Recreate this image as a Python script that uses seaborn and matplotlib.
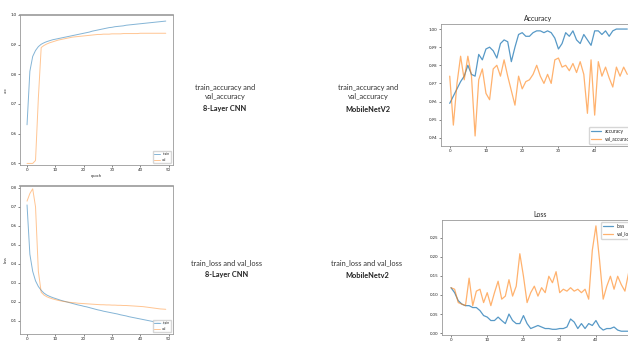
import numpy as np
import pandas as pd
import matplotlib
matplotlib.use("Agg")
import matplotlib.pyplot as plt
import seaborn as sns

sns.set_style("ticks")
plt.rcParams['font.family'] = ['Lato', 'DejaVu Sans']

# 8-layer CNN (left column)
cnn_epochs = list(range(50))
cnn_train_acc = [0.63, 0.81, 0.86, 0.88, 0.893, 0.901, 0.906, 0.910, 0.913, 0.916,
                 0.918, 0.920, 0.922, 0.924, 0.926, 0.928, 0.930, 0.932, 0.934, 0.936,
                 0.938, 0.940, 0.942, 0.945, 0.947, 0.949, 0.951, 0.953, 0.955, 0.957,
                 0.958, 0.960, 0.961, 0.962, 0.963, 0.965, 0.966, 0.967, 0.968, 0.969,
                 0.970, 0.971, 0.972, 0.973, 0.974, 0.975, 0.976, 0.977, 0.978, 0.979]
cnn_val_acc = [0.50, 0.50, 0.50, 0.51, 0.72, 0.89, 0.897, 0.902, 0.906, 0.909,
               0.912, 0.915, 0.917, 0.919, 0.921, 0.923, 0.925, 0.926, 0.927, 0.928,
               0.929, 0.930, 0.931, 0.932, 0.933, 0.934, 0.934, 0.935, 0.935, 0.935,
               0.936, 0.936, 0.936, 0.936, 0.937, 0.937, 0.937, 0.937, 0.937, 0.937,
               0.938, 0.938, 0.938, 0.938, 0.938, 0.938, 0.938, 0.938, 0.938, 0.938]
cnn_train_loss = [0.71, 0.45, 0.36, 0.31, 0.28, 0.26, 0.245, 0.235, 0.228, 0.222,
                  0.217, 0.212, 0.207, 0.203, 0.199, 0.195, 0.191, 0.187, 0.183, 0.180,
                  0.176, 0.173, 0.169, 0.165, 0.161, 0.157, 0.154, 0.150, 0.147, 0.144,
                  0.141, 0.138, 0.135, 0.131, 0.128, 0.125, 0.121, 0.118, 0.115, 0.112,
                  0.109, 0.106, 0.103, 0.100, 0.097, 0.094, 0.091, 0.088, 0.084, 0.080]
cnn_val_loss = [0.73, 0.77, 0.795, 0.70, 0.36, 0.25, 0.235, 0.226, 0.220, 0.215,
                0.211, 0.207, 0.204, 0.201, 0.199, 0.197, 0.195, 0.194, 0.192, 0.191,
                0.190, 0.189, 0.188, 0.187, 0.186, 0.185, 0.184, 0.184, 0.183, 0.183,
                0.182, 0.182, 0.181, 0.181, 0.180, 0.180, 0.179, 0.178, 0.177, 0.176,
                0.175, 0.174, 0.172, 0.170, 0.168, 0.166, 0.164, 0.162, 0.161, 0.160]

# MobileNetV2 (right column)
mob_epochs = list(range(50))
mob_acc = [0.959, 0.963, 0.967, 0.971, 0.974, 0.980, 0.975, 0.974, 0.986, 0.983,
           0.989, 0.990, 0.988, 0.984, 0.992, 0.994, 0.993, 0.982, 0.990, 0.997,
           0.998, 0.996, 0.996, 0.998, 0.999, 0.999, 0.998, 0.999, 0.998, 0.995,
           0.989, 0.992, 0.998, 0.996, 0.999, 0.994, 0.992, 0.997, 0.994, 0.991,
           0.999, 0.999, 0.997, 0.999, 0.996, 0.999, 1.000, 1.000, 1.000, 1.000]
mob_val_acc = [0.974, 0.947, 0.970, 0.985, 0.972, 0.985, 0.974, 0.941, 0.972, 0.978,
               0.9645, 0.961, 0.978, 0.980, 0.974, 0.983, 0.974, 0.966, 0.958, 0.974,
               0.967, 0.971, 0.972, 0.975, 0.980, 0.974, 0.970, 0.975, 0.970, 0.983,
               0.984, 0.979, 0.980, 0.977, 0.981, 0.976, 0.982, 0.975, 0.9535, 0.983,
               0.9525, 0.982, 0.974, 0.979, 0.973, 0.968, 0.979, 0.974, 0.979, 0.975]
mob_loss = [0.119, 0.106, 0.085, 0.076, 0.072, 0.072, 0.067, 0.067, 0.059, 0.046,
            0.042, 0.033, 0.033, 0.042, 0.033, 0.025, 0.050, 0.033, 0.025, 0.025,
            0.046, 0.025, 0.012, 0.016, 0.020, 0.016, 0.012, 0.012, 0.010, 0.010,
            0.012, 0.012, 0.016, 0.037, 0.029, 0.012, 0.025, 0.012, 0.025, 0.020,
            0.033, 0.016, 0.008, 0.012, 0.012, 0.016, 0.008, 0.005, 0.005, 0.005]
mob_val_loss = [0.119, 0.115, 0.080, 0.076, 0.072, 0.144, 0.072, 0.110, 0.115, 0.080,
                0.106, 0.072, 0.106, 0.136, 0.089, 0.097, 0.140, 0.097, 0.123, 0.208,
                0.149, 0.080, 0.106, 0.123, 0.097, 0.119, 0.106, 0.149, 0.132, 0.161,
                0.106, 0.115, 0.110, 0.119, 0.110, 0.115, 0.106, 0.115, 0.089, 0.217,
                0.281, 0.191, 0.089, 0.123, 0.149, 0.115, 0.149, 0.127, 0.110, 0.157]

blue = '#1f77b4'
orange = '#ff7f0e'

fig = plt.figure(figsize=(6.28, 3.45), dpi=100)

tick_fs = 3.2


def style_axes(ax):
    ax.tick_params(labelsize=tick_fs, length=1.5, width=0.4, pad=1)
    for s in ax.spines.values():
        s.set_linewidth(0.6)
        s.set_color('#999999')


# left top: CNN accuracy
ax1 = fig.add_axes([0.032, 0.522, 0.243, 0.435])
sns.lineplot(x=cnn_epochs, y=cnn_train_acc, ax=ax1, color=blue, alpha=0.55, lw=0.7, label='train')
sns.lineplot(x=cnn_epochs, y=cnn_val_acc, ax=ax1, color=orange, alpha=0.45, lw=0.7, label='val')
ax1.set_ylim(0.495, 1.0)
ax1.set_xticks(range(0, 51, 10))
ax1.set_xlabel('epoch', fontsize=3, labelpad=1)
ax1.set_ylabel('acc', fontsize=3, labelpad=2)
style_axes(ax1)
ax1.spines['top'].set_linewidth(1.2)
ax1.legend(loc='lower right', fontsize=2.5, frameon=True, handlelength=1.5)

# left bottom: CNN loss (its x label falls below the picture in the reference)
ax2 = fig.add_axes([0.032, 0.032, 0.243, 0.429])
sns.lineplot(x=cnn_epochs, y=cnn_train_loss, ax=ax2, color=blue, alpha=0.55, lw=0.7, label='train')
sns.lineplot(x=cnn_epochs, y=cnn_val_loss, ax=ax2, color=orange, alpha=0.45, lw=0.7, label='val')
ax2.set_ylim(0.03, 0.81)
ax2.set_xticks(range(0, 51, 10))
ax2.set_ylabel('loss', fontsize=3, labelpad=2)
style_axes(ax2)
ax2.spines['top'].set_linewidth(1.2)
ax2.legend(loc='lower right', fontsize=2.5, frameon=True, handlelength=1.5)

# right top: MobileNetV2 accuracy
ax3 = fig.add_axes([0.702, 0.577, 0.311, 0.353])
sns.lineplot(x=mob_epochs, y=mob_acc, ax=ax3, color=blue, alpha=0.75, lw=0.9, label='accuracy')
sns.lineplot(x=mob_epochs, y=mob_val_acc, ax=ax3, color=orange, alpha=0.6, lw=0.9, label='val_accuracy')
ax3.set_ylim(0.9355, 1.0027)
ax3.set_yticks([0.94, 0.95, 0.96, 0.97, 0.98, 0.99, 1.00])
ax3.set_xticks(range(0, 51, 10))
ax3.set_title('Accuracy', fontsize=5, pad=2)
style_axes(ax3)
ax3.legend(loc='lower right', fontsize=3.5, frameon=True, handlelength=2)

# right bottom: MobileNetV2 loss
ax4 = fig.add_axes([0.704, 0.03, 0.311, 0.333])
sns.lineplot(x=mob_epochs, y=mob_loss, ax=ax4, color=blue, alpha=0.75, lw=0.9, label='loss')
sns.lineplot(x=mob_epochs, y=mob_val_loss, ax=ax4, color=orange, alpha=0.6, lw=0.9, label='val_loss')
ax4.set_ylim(-0.004, 0.297)
ax4.set_yticks([0.00, 0.05, 0.10, 0.15, 0.20, 0.25])
ax4.set_xticks(range(0, 51, 10))
ax4.set_title('Loss', fontsize=5, pad=2)
style_axes(ax4)
ax4.legend(loc='upper right', fontsize=3.5, frameon=True, handlelength=2)

# captions in the middle
cap_fs = 5.3
fig.text(225 / 628, 1 - 92 / 345, 'train_accuracy and\nval_accuracy', ha='center', va='center',
         fontsize=cap_fs, color='#333333', linespacing=1.3)
fig.text(225 / 628, 1 - 109 / 345, '8-Layer CNN', ha='center', va='center',
         fontsize=cap_fs, color='#222222', fontweight='bold')
fig.text(368 / 628, 1 - 92 / 345, 'train_accuracy and\nval_accuracy', ha='center', va='center',
         fontsize=cap_fs, color='#333333', linespacing=1.3)
fig.text(368 / 628, 1 - 109 / 345, 'MobileNetV2', ha='center', va='center',
         fontsize=cap_fs, color='#222222', fontweight='bold')

fig.text(227 / 628, 1 - 263 / 345, 'train_loss and val_loss', ha='center', va='center',
         fontsize=cap_fs, color='#333333')
fig.text(227 / 628, 1 - 275 / 345, '8-Layer CNN', ha='center', va='center',
         fontsize=cap_fs, color='#222222', fontweight='bold')
fig.text(367 / 628, 1 - 263 / 345, 'train_loss and val_loss', ha='center', va='center',
         fontsize=cap_fs, color='#333333')
fig.text(367 / 628, 1 - 275 / 345, 'MobileNetv2', ha='center', va='center',
         fontsize=cap_fs, color='#222222', fontweight='bold')

fig.savefig('out.png', dpi=100)
